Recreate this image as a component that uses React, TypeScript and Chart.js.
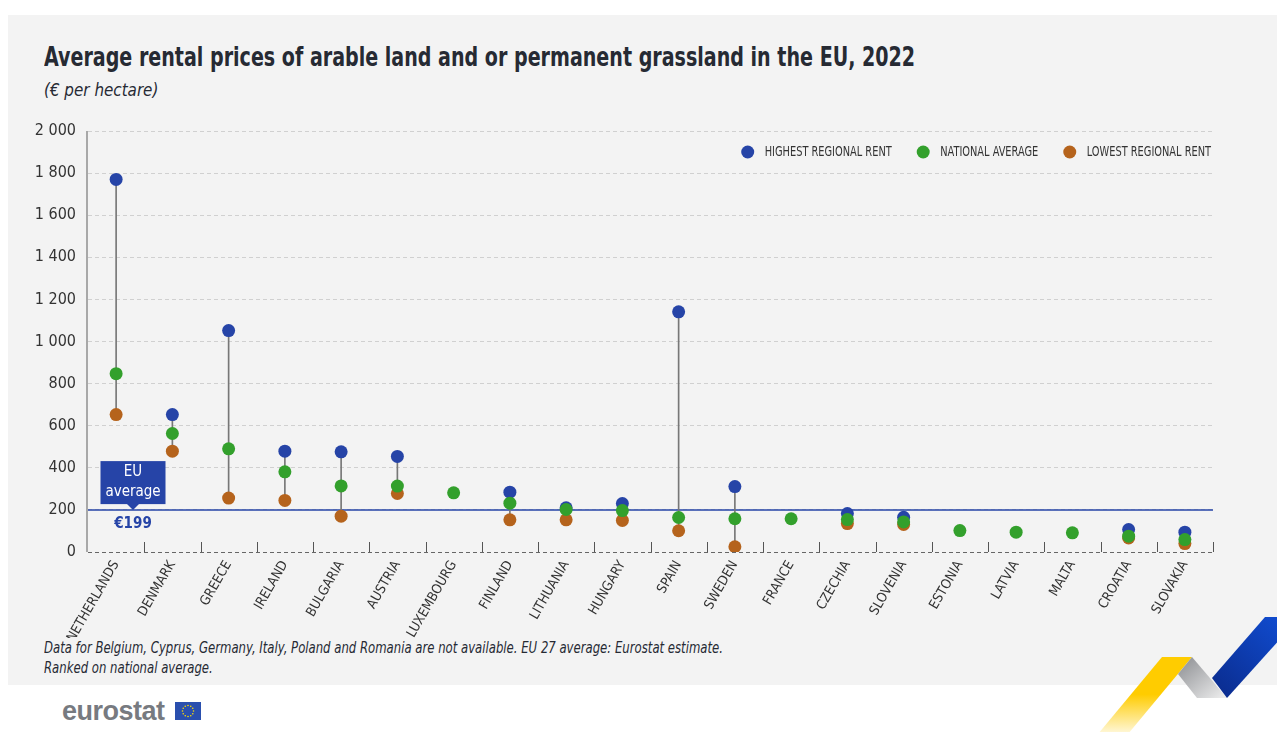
import React, { useEffect, useLayoutEffect, useRef } from "react";
import { Chart, registerables } from "chart.js";

Chart.register(...registerables);

const FONT = "'DejaVu Sans Condensed', 'Liberation Sans Narrow', 'Roboto', sans-serif";

const categories = [
  "NETHERLANDS", "DENMARK", "GREECE", "IRELAND", "BULGARIA", "AUSTRIA", "LUXEMBOURG",
  "FINLAND", "LITHUANIA", "HUNGARY", "SPAIN", "SWEDEN", "FRANCE", "CZECHIA",
  "SLOVENIA", "ESTONIA", "LATVIA", "MALTA", "CROATIA", "SLOVAKIA",
];
const highestRent: (number | null)[] = [1770, 653, 1052, 479, 476, 454, null, 284, 210, 230, 1141, 311, null, 183, 165, null, null, null, 107, 94];
const nationalAverage: (number | null)[] = [847, 563, 490, 381, 314, 313, 281, 232, 202, 197, 164, 158, 158, 154, 143, 102, 94, 91, 75, 59];
const lowestRent: (number | null)[] = [653, 479, 256, 245, 170, 278, null, 153, 153, 150, 101, 25, null, 135, 131, null, null, null, 67, 40];
const euAverage = 199;
const yTicks = [0, 200, 400, 600, 800, 1000, 1200, 1400, 1600, 1800, 2000];
const legendLabels = ["HIGHEST REGIONAL RENT", "NATIONAL AVERAGE", "LOWEST REGIONAL RENT"];

const BLUE = "#2644A7";
const GREEN = "#33A02C";
const BROWN = "#B5631C";
const legendColors = [BLUE, GREEN, BROWN];

const fmt = (v: number) => String(v).replace(/\B(?=(\d{3})+(?!\d))/g, " ");

const customPlugin = {
  id: "custom",
  beforeDatasetsDraw(chart: any) {
    const { ctx, chartArea, scales } = chart;
    // y axis line
    ctx.save();
    ctx.strokeStyle = "#a8a8a8";
    ctx.lineWidth = 2;
    ctx.beginPath();
    ctx.moveTo(chartArea.left - 1, chartArea.top);
    ctx.lineTo(chartArea.left - 1, chartArea.bottom);
    ctx.stroke();
    // EU average line
    const y = scales.y.getPixelForValue(euAverage);
    ctx.strokeStyle = BLUE;
    ctx.lineWidth = 1.5;
    ctx.beginPath();
    ctx.moveTo(chartArea.left, y);
    ctx.lineTo(chartArea.right, y);
    ctx.stroke();
    ctx.restore();
  },
  afterDraw(chart: any) {
    const { ctx, chartArea, scales } = chart;
    const n = categories.length;
    const w = (chartArea.right - chartArea.left) / n;
    ctx.save();
    ctx.strokeStyle = "#555";
    ctx.lineWidth = 1;
    for (let i = 1; i <= n; i++) {
      const px = Math.round(chartArea.left + i * w) + 0.5;
      ctx.beginPath();
      ctx.moveTo(px, chartArea.bottom - 10);
      ctx.lineTo(px, chartArea.bottom);
      ctx.stroke();
    }
    // EU average box
    const yLine = scales.y.getPixelForValue(euAverage);
    const cx = chartArea.left + 45;
    const bw = 65, bh = 43;
    const bottom = yLine - 6;
    ctx.fillStyle = BLUE;
    ctx.fillRect(cx - bw / 2, bottom - bh, bw, bh);
    ctx.beginPath();
    ctx.moveTo(cx - 6, bottom);
    ctx.lineTo(cx + 6, bottom);
    ctx.lineTo(cx, bottom + 6);
    ctx.closePath();
    ctx.fill();
    ctx.fillStyle = "#ffffff";
    ctx.font = `15px ${FONT}`;
    ctx.textAlign = "center";
    ctx.textBaseline = "middle";
    ctx.fillText("EU", cx, bottom - 32);
    ctx.fillText("average", cx, bottom - 12);
    ctx.fillStyle = BLUE;
    ctx.font = `bold 15px ${FONT}`;
    ctx.fillText("€199", cx, yLine + 14);

    // legend
    ctx.font = `14px ${FONT}`;
    ctx.textAlign = "left";
    ctx.textBaseline = "middle";
    const sx = 127 / ctx.measureText(legendLabels[0]).width;
    let xr = chartArea.right - 2;
    const ly = chartArea.top + 21;
    for (let i = legendLabels.length - 1; i >= 0; i--) {
      const tw = ctx.measureText(legendLabels[i]).width * sx;
      const tx = xr - tw;
      ctx.save();
      ctx.translate(tx, ly);
      ctx.scale(sx, 1);
      ctx.fillStyle = "#333";
      ctx.fillText(legendLabels[i], 0, 0);
      ctx.restore();
      ctx.fillStyle = legendColors[i];
      ctx.beginPath();
      ctx.arc(tx - 17, ly, 6.5, 0, Math.PI * 2);
      ctx.fill();
      xr = tx - 17 - 6.5 - 25;
    }
    ctx.restore();
  },
};

function ChartCanvas() {
  const ref = useRef<HTMLCanvasElement | null>(null);
  useEffect(() => {
    if (!ref.current) return;
    Chart.defaults.font.family = FONT;
    const connectors = categories.map((_, i) => {
      const h = highestRent[i];
      const l = lowestRent[i];
      if (h == null) return null;
      return [l ?? (nationalAverage[i] as number), h];
    });
    const pointDs = (label: string, data: (number | null)[], color: string, order: number) => ({
      type: "line" as const,
      label,
      data,
      showLine: false,
      pointRadius: 6.5,
      pointHoverRadius: 6.5,
      pointStyle: "circle",
      pointBorderWidth: 0,
      borderWidth: 0,
      backgroundColor: color,
      borderColor: color,
      pointBackgroundColor: color,
      order,
    });
    const chart = new Chart(ref.current, {
      type: "bar",
      data: {
        labels: categories,
        datasets: [
          pointDs(legendLabels[0], highestRent, BLUE, 2),
          pointDs(legendLabels[1], nationalAverage, GREEN, 1),
          pointDs(legendLabels[2], lowestRent, BROWN, 3),
          {
            type: "bar" as const,
            label: "range",
            data: connectors as any,
            backgroundColor: "#777777",
            barThickness: 1,
            order: 10,
          },
        ] as any,
      },
      options: {
        animation: false,
        responsive: false,
        maintainAspectRatio: false,
        layout: { padding: { left: 0, top: 23, right: 72, bottom: 0 } },
        plugins: {
          tooltip: { enabled: false },
          legend: { display: false },
        },
        scales: {
          x: {
            type: "category",
            offset: true,
            grid: { display: false, drawTicks: false },
            border: { display: false },
            ticks: {
              autoSkip: false,
              minRotation: 60,
              maxRotation: 60,
              color: "#333",
              padding: 6,
              font: { size: 13.5, family: FONT },
            },
            afterFit: (s: any) => { s.height = 86; },
          },
          y: {
            min: 0,
            max: 2000,
            afterBuildTicks: (s: any) => { s.ticks = yTicks.map((v) => ({ value: v })); },
            grid: {
              drawTicks: false,
              color: (c: any) => (c.tick && c.tick.value === 0 ? "#666" : "#d0d0d0"),
              lineWidth: 1,
            },
            border: { display: false, dash: [4, 3] },
            ticks: {
              color: "#333",
              padding: 12,
              font: { size: 16, family: FONT },
              callback: (v: any) => fmt(Number(v)),
            },
            afterFit: (s: any) => { s.width = 80; },
          },
        },
      } as any,
      plugins: [customPlugin],
    });
    return () => chart.destroy();
  }, []);
  return <canvas ref={ref} width={1277} height={530} style={{ position: "absolute", left: 0, top: 100, width: 1277, height: 530 }} />;
}

function FitText({ target, style, children }: { target: number; style: any; children: any }) {
  const ref = useRef<HTMLDivElement | null>(null);
  useLayoutEffect(() => {
    const el = ref.current;
    if (!el) return;
    el.style.transform = "none";
    const w = el.scrollWidth;
    if (w > 0) el.style.transform = `scaleX(${target / w})`;
  }, [target]);
  return (
    <div ref={ref} style={{ position: "absolute", whiteSpace: "nowrap", transformOrigin: "0 0", width: "max-content", ...style }}>
      {children}
    </div>
  );
}

export default function App() {
  return (
    <div style={{ position: "relative", width: 1277, height: 724, fontFamily: FONT, color: "#222" }}>
      <div style={{ position: "absolute", left: 0, top: 7, width: 1277, height: 670, background: "#f3f3f3" }} />
      <FitText target={871} style={{ left: 36, top: 35, fontSize: 27, lineHeight: "27px", fontWeight: 700, color: "#262a33" }}>
        Average rental prices of arable land and or permanent grassland in the EU, 2022
      </FitText>
      <FitText target={114} style={{ left: 36, top: 74, fontSize: 17, lineHeight: "17px", fontStyle: "italic", color: "#262a33" }}>
        (€ per hectare)
      </FitText>
      <ChartCanvas />
      <FitText target={679} style={{ left: 36, top: 630, fontSize: 15.5, lineHeight: "20px", fontStyle: "italic", color: "#262a33" }}>
        <div>Data for Belgium, Cyprus, Germany, Italy, Poland and Romania are not available. EU 27 average: Eurostat estimate.</div>
        <div>Ranked on national average.</div>
      </FitText>
      <div style={{ position: "absolute", left: 54, top: 690, fontFamily: "'Liberation Sans', Arial, sans-serif", fontSize: 27, lineHeight: "27px", fontWeight: 700, color: "#777a80", letterSpacing: -0.5 }}>
        eurostat
      </div>
      <svg style={{ position: "absolute", left: 167, top: 694 }} width={26} height={18}>
        <rect x={0} y={0} width={26} height={18} fill="#2a4fae" />
        {Array.from({ length: 12 }).map((_, i) => {
          const a = (i / 12) * Math.PI * 2;
          return <circle key={i} cx={13 + 5.5 * Math.cos(a)} cy={9 + 5.5 * Math.sin(a)} r={0.8} fill="#ffdd00" />;
        })}
      </svg>
      <svg style={{ position: "absolute", left: -8, top: -8, pointerEvents: "none" }} width={1285} height={740}>
        <defs>
          <linearGradient id="yg" x1="0" y1="0" x2="0" y2="1">
            <stop offset="0" stopColor="#ffcc00" />
            <stop offset="0.45" stopColor="#ffcc00" />
            <stop offset="1" stopColor="#ffffff" />
          </linearGradient>
          <linearGradient id="gg" x1="0" y1="0" x2="1" y2="1">
            <stop offset="0" stopColor="#8a8c90" />
            <stop offset="1" stopColor="#f0f0f0" />
          </linearGradient>
          <linearGradient id="bg" x1="1" y1="0" x2="0" y2="1">
            <stop offset="0" stopColor="#1150d8" />
            <stop offset="1" stopColor="#0a2a8a" />
          </linearGradient>
        </defs>
        <polygon points="1162,657 1192,657 1123,740 1093,740" fill="url(#yg)" />
        <polygon points="1192,657 1227,698 1197,698 1178,674" fill="url(#gg)" />
        <polygon points="1265,617 1300,617 1227,698 1212,678" fill="url(#bg)" />
      </svg>
    </div>
  );
}
